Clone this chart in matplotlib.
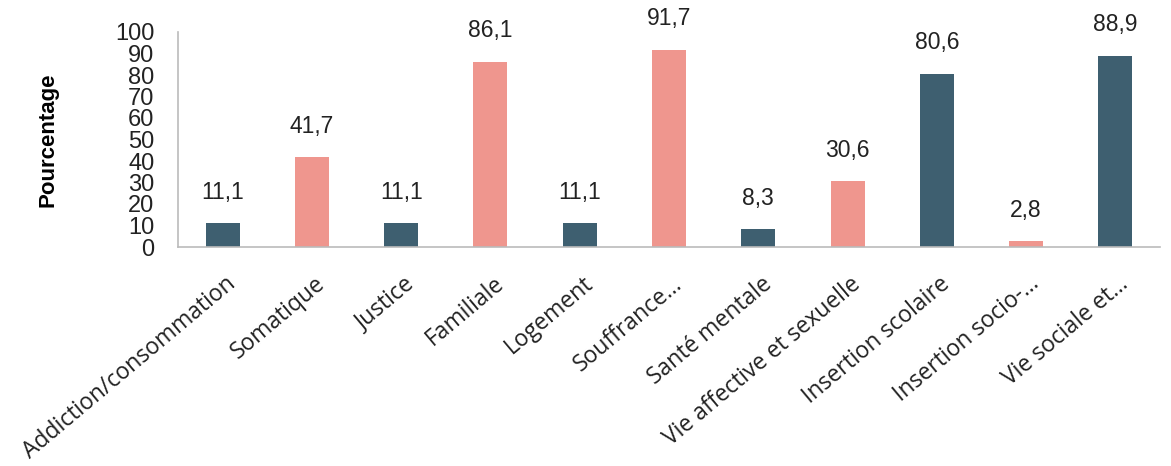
import matplotlib
matplotlib.use("Agg")
import matplotlib.pyplot as plt
import matplotlib.transforms as mtransforms

categories = ["Addiction/consommation", "Somatique", "Justice", "Familiale",
              "Logement", "Souffrance…", "Santé mentale",
              "Vie affective et sexuelle", "Insertion scolaire",
              "Insertion socio-…", "Vie sociale et…"]
values = [11.1, 41.7, 11.1, 86.1, 11.1, 91.7, 8.3, 30.6, 80.6, 2.8, 88.9]
groups = ["dark", "light", "dark", "light", "dark", "light", "dark", "light",
          "dark", "light", "dark"]

colors = {"dark": "#3e5f70", "light": "#ef968e"}

plt.rcParams['font.family'] = ['Liberation Sans', 'DejaVu Sans']

fig = plt.figure(figsize=(11.71, 4.66), dpi=100)
ax = fig.add_axes([178 / 1171, 1 - 247 / 466, (1160 - 178) / 1171, (247 - 32) / 466])

x = range(len(categories))
bars = ax.bar(x, values, width=0.38, color=[colors[g] for g in groups])
for b, v in zip(bars, values):
    ax.annotate(f"{v:.1f}".replace(".", ","),
                (b.get_x() + b.get_width() / 2, v), xytext=(0, 14),
                textcoords="offset points", ha="center", va="bottom",
                fontsize=16.5, color="#222222")

ax.set_xlim(-0.5, len(categories) - 0.5)
ax.set_ylim(0, 100)
ax.set_yticks(range(0, 101, 10))
ax.tick_params(axis="y", length=0, labelsize=17, pad=17, colors="#222222")
ax.tick_params(axis="x", length=0, pad=18)
ax.set_xticks(list(x))
ax.set_xticklabels(categories, rotation=40, ha="right", rotation_mode="anchor",
                   fontsize=16.5, family=["Open Sans", "DejaVu Sans"], color="#222222")
shift = mtransforms.ScaledTranslation(2 / 72, 0, fig.dpi_scale_trans)
for lbl in ax.get_xticklabels():
    lbl.set_transform(lbl.get_transform() + shift)
ax.spines[["right", "top"]].set_visible(False)
for s in ["left", "bottom"]:
    ax.spines[s].set_color("#bbbbbb")
    ax.spines[s].set_linewidth(1.2)
ax.set_ylabel("Pourcentage", fontsize=16, fontweight="bold")
ax.yaxis.set_label_coords(-120 / 982, 0.5)

fig.savefig("out.png", dpi=100)
